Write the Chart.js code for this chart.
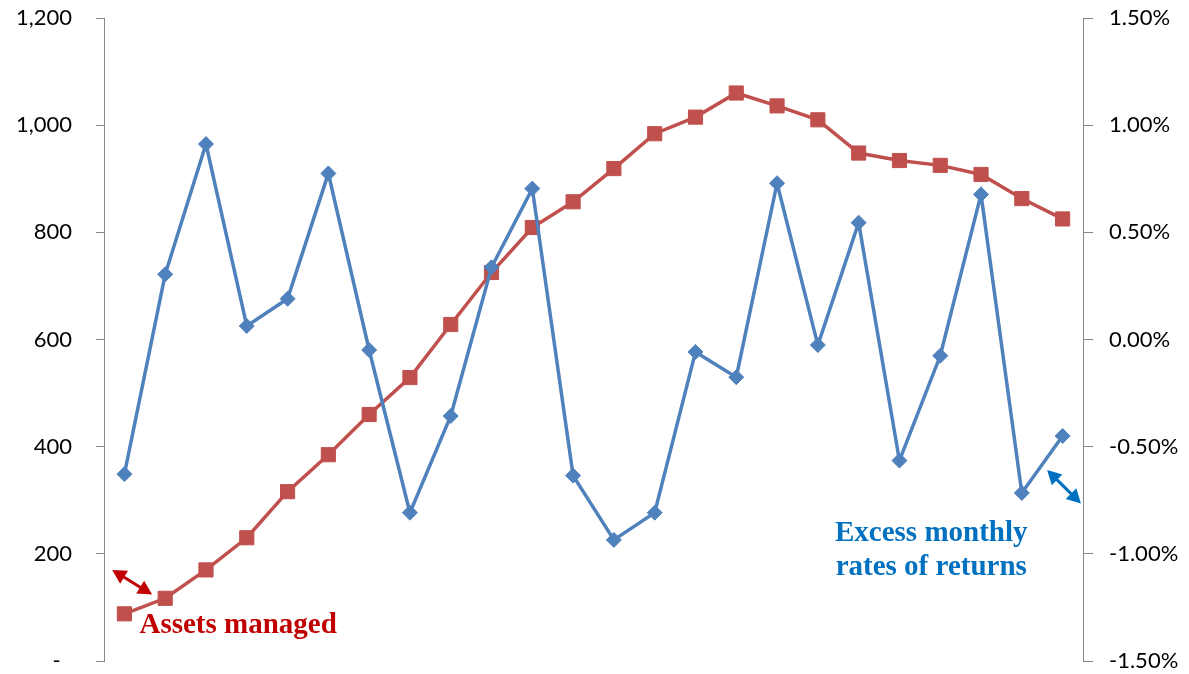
<!DOCTYPE html>
<html>
<head>
<meta charset="utf-8">
<script src="https://cdn.jsdelivr.net/npm/chart.js@4/dist/chart.umd.min.js"></script>
<style>
  html, body { margin: 0; padding: 0; background: #fff; }
  #wrap { width: 1189px; height: 674px; position: relative; }
</style>
</head>
<body>
<div id="wrap"><canvas id="c" width="1189" height="674"></canvas></div>
<script>
// Months 1..24
const months = Array.from({ length: 24 }, (_, i) => 'M' + (i + 1));

// Excess monthly rate of return, in percent (right axis)
const excessReturns = [
  -0.628, 0.304, 0.912, 0.063, 0.190, 0.775, -0.049, -0.808,
  -0.357, 0.337, 0.704, -0.635, -0.935, -0.808, -0.058, -0.176,
  0.729, -0.026, 0.545, -0.565, -0.076, 0.677, -0.716, -0.450
];

// Assets under management (left axis)
const assetsManaged = [
  88, 117, 170, 230, 316, 385, 460, 529,
  628, 725, 809, 857, 919, 984, 1015, 1060,
  1036, 1010, 948, 934, 925, 908, 863, 825
];

// Axis tick values
const leftTicks = [0, 200, 400, 600, 800, 1000, 1200];
const rightTicks = [-1.5, -1.0, -0.5, 0.0, 0.5, 1.0, 1.5];

const axisGrey = '#868686';
const tickFont = { family: 'Lato', size: 22 };

function arrow(ctx, x1, y1, x2, y2, color) {
  const ang = Math.atan2(y2 - y1, x2 - x1);
  const head = 14, half = 7.5;
  ctx.save();
  ctx.strokeStyle = color;
  ctx.fillStyle = color;
  ctx.lineWidth = 3;
  ctx.beginPath();
  ctx.moveTo(x1 + Math.cos(ang) * head * 0.8, y1 + Math.sin(ang) * head * 0.8);
  ctx.lineTo(x2 - Math.cos(ang) * head * 0.8, y2 - Math.sin(ang) * head * 0.8);
  ctx.stroke();
  [[x1, y1, ang + Math.PI], [x2, y2, ang]].forEach(([px, py, a]) => {
    ctx.beginPath();
    ctx.moveTo(px, py);
    ctx.lineTo(px - Math.cos(a) * head + Math.sin(a) * half, py - Math.sin(a) * head - Math.cos(a) * half);
    ctx.lineTo(px - Math.cos(a) * head - Math.sin(a) * half, py - Math.sin(a) * head + Math.cos(a) * half);
    ctx.closePath();
    ctx.fill();
  });
  ctx.restore();
}

// Series captions with double-headed arrows pointing at each line's axis
const captions = {
  id: 'captions',
  afterDatasetsDraw(chart) {
    const { ctx, scales } = chart;
    const x = scales.x, yl = scales.y, yr = scales.y1;
    const xp = v => x.getPixelForValue(0) + v * (x.getPixelForValue(1) - x.getPixelForValue(0));
    ctx.save();
    ctx.font = 'bold 29px "Liberation Serif"';
    ctx.textBaseline = 'alphabetic';

    ctx.fillStyle = '#C00000';
    ctx.textAlign = 'left';
    ctx.fillText('Assets managed', xp(0.37), yl.getPixelForValue(52));
    arrow(ctx, xp(-0.3), yl.getPixelForValue(170), xp(0.68), yl.getPixelForValue(124), '#C00000');

    ctx.fillStyle = '#0070C0';
    ctx.textAlign = 'center';
    ctx.fillText('Excess monthly', xp(19.78), yr.getPixelForValue(-0.94));
    ctx.fillText('rates of returns', xp(19.78), yr.getPixelForValue(-1.10));
    arrow(ctx, xp(22.62), yr.getPixelForValue(-0.609), xp(23.45), yr.getPixelForValue(-0.765), '#0070C0');
    ctx.restore();
  }
};

// Fixed axis width; label overflow is handled by the layout padding instead
const fitAxis = w => s => { s.width = w; s.paddingTop = 0; s.paddingBottom = 0; };

new Chart(document.getElementById('c'), {
  type: 'line',
  data: {
    labels: months,
    datasets: [
      {
        label: 'Excess monthly rates of returns',
        data: excessReturns,
        yAxisID: 'y1',
        borderColor: '#4F81BD',
        backgroundColor: '#4F81BD',
        borderWidth: 3.5,
        pointStyle: 'rectRot',
        pointRadius: 7.5,
        pointBorderWidth: 1,
        tension: 0,
        order: 0
      },
      {
        label: 'Assets managed',
        data: assetsManaged,
        yAxisID: 'y',
        borderColor: '#C0504D',
        backgroundColor: '#C0504D',
        borderWidth: 3.5,
        pointStyle: 'rect',
        pointRadius: 10,
        pointBorderWidth: 1,
        tension: 0,
        order: 1
      }
    ]
  },
  options: {
    responsive: false,
    animation: false,
    layout: { padding: { top: 18, bottom: 13, left: 0, right: 0 } },
    plugins: { legend: { display: false }, tooltip: { enabled: false } },
    scales: {
      x: { type: 'category', offset: true, display: false },
      y: {
        position: 'left',
        min: 0, max: 1200,
        afterBuildTicks(s) { s.ticks = leftTicks.map(v => ({ value: v })); },
        afterFit: fitAxis(104),
        ticks: {
          font: tickFont, color: '#000', padding: 24,
          callback: v => v === 0 ? '-  ' : v.toLocaleString('en-US')
        },
        grid: { drawOnChartArea: false, drawTicks: true, tickLength: 8, color: axisGrey, lineWidth: 1 },
        border: { display: true, color: axisGrey, width: 1 }
      },
      y1: {
        position: 'right',
        min: -1.5, max: 1.5,
        afterBuildTicks(s) { s.ticks = rightTicks.map(v => ({ value: v })); },
        afterFit: fitAxis(106),
        ticks: {
          font: tickFont, color: '#000', padding: 16,
          callback: v => v.toFixed(2) + '%'
        },
        grid: { drawOnChartArea: false, drawTicks: true, tickLength: 10, color: axisGrey, lineWidth: 1 },
        border: { display: true, color: axisGrey, width: 1 }
      }
    }
  },
  plugins: [captions]
});
</script>
</body>
</html>
